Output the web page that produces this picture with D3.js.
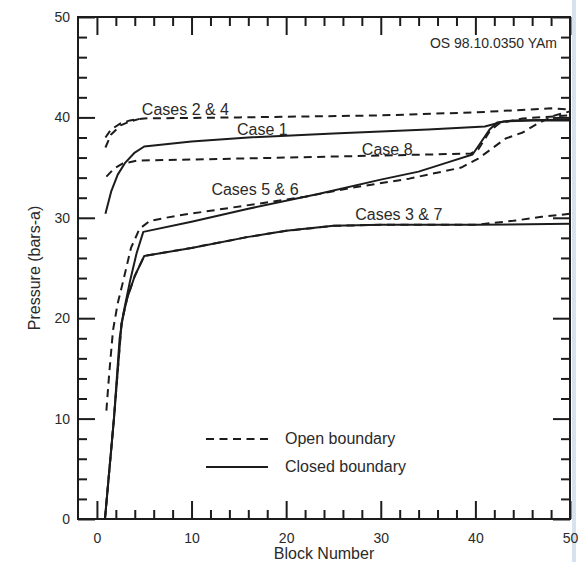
<!DOCTYPE html>
<html>
<head>
<meta charset="utf-8">
<script src="https://cdn.jsdelivr.net/npm/d3@7"></script>
<style>
  html, body { margin: 0; padding: 0; background: #fff; }
  svg { display: block; }
  text { font-family: "Liberation Sans", Arial, Helvetica, sans-serif; fill: #2a2a2a; }
</style>
</head>
<body>
<svg id="chart" width="582" height="562"></svg>
<script>
// ---- data ----
const xMajorTicks = [0, 10, 20, 30, 40, 50];
const yMajorTicks = [0, 10, 20, 30, 40, 50];
const xMinorTicks = [2, 4, 6, 8, 12, 14, 16, 18, 22, 24, 26, 28, 32, 34, 36, 38, 42, 44, 46, 48];
const yMinorTicks = [2, 4, 6, 8, 12, 14, 16, 18, 22, 24, 26, 28, 32, 34, 36, 38, 42, 44, 46, 48];

// Open boundary (dashed)
const case2Open = [[0.9,38.0],[1.5,38.8],[2.5,39.4],[3.5,39.7],[5,39.9],[15,40.0],[30,40.2],[40,40.5],[48,40.9],[50,40.8]];
const case4Open = [[0.9,37.0],[1.5,38.3],[2.5,39.2],[3.5,39.6],[4.5,39.85]];
const case8Open = [[1.0,34.1],[1.8,34.9],[2.7,35.4],[4.3,35.7],[10,35.8],[20,36.0],[30,36.2],[39.5,36.4],[40.3,36.8],[41.5,38.6],[42.5,39.4],[45,39.9],[50,40.2]];
const case56Open = [[1.0,10.8],[1.3,14.5],[1.7,18.8],[2.2,21.5],[2.8,23.8],[3.6,27.0],[4.5,28.9],[5.6,29.7],[8.4,30.2],[12,30.7],[17,31.4],[22,32.1],[27,33.0],[33,33.9],[38.5,35.0],[40.3,35.9],[43.2,37.9],[45,38.5],[46.6,39.4],[48.4,40.2],[50,40.6]];
const case37Open = [[0.85,0],[1.8,10],[2.6,19.5],[3.2,22],[4.0,24.2],[5.0,26.2],[10,27.0],[16,28.1],[20,28.7],[25,29.2],[30,29.3],[40,29.3],[44,29.7],[47,30.1],[50,30.4]];

// Closed boundary (solid)
const case1Closed = [[0.9,30.4],[1.5,32.6],[2.2,34.3],[3,35.5],[4,36.5],[5,37.1],[10,37.6],[16,38.0],[25,38.4],[35,38.8],[41,39.1],[43,39.6],[46,39.7],[50,39.7]];
const case56Closed = [[0.85,0],[1.8,10],[2.4,18],[2.8,20.5],[3.5,23.7],[4.2,26.5],[4.9,28.6],[10,29.6],[16,30.9],[23.5,32.4],[30,33.8],[34,34.6],[37,35.5],[39.7,36.3],[40.5,37.4],[41.5,38.8],[42.3,39.5],[44,39.7],[50,39.8]];
const case37Closed = [[0.85,0],[1.8,10],[2.6,19.5],[3.2,22],[4.0,24.2],[5.0,26.2],[10,27.0],[16,28.1],[20,28.7],[25,29.2],[30,29.3],[40,29.3],[50,29.4]];

const caseLabels = [
  { text: "Cases 2 & 4", x: 4.75, y: 40.25 },
  { text: "Case 1",      x: 14.8, y: 38.2 },
  { text: "Case 8",      x: 28.0, y: 36.3 },
  { text: "Cases 5 & 6", x: 12.1, y: 32.3 },
  { text: "Cases 3 & 7", x: 27.3, y: 29.8 }
];
const legendItems = [
  { label: "Open boundary", dashed: true },
  { label: "Closed boundary", dashed: false }
];

// ---- drawing ----
const svg = d3.select("#chart");
const pLeft = 78, pRight = 570, pTop = 17, pBottom = 519;
const x = d3.scaleLinear().domain([-2, 50]).range([pLeft, pRight]);
const y = d3.scaleLinear().domain([0, 50]).range([pBottom, pTop]);
const ink = "#1c1c1c";

// scan artefact strip at right edge
svg.append("rect").attr("x", 572).attr("y", 0).attr("width", 4).attr("height", 562).attr("fill", "#d6e3ee");

function styleAxis(g) {
  g.select(".domain").remove();
  g.selectAll(".tick line").attr("stroke", ink).attr("stroke-width", 2);
  g.selectAll(".tick text").style("font-size", "14px").attr("fill", "#2a2a2a");
}

// bottom
svg.append("g").attr("transform", `translate(0,${pBottom})`)
  .call(d3.axisBottom(x).tickValues(xMajorTicks).tickSize(-18).tickPadding(14.5).tickFormat(d3.format("d")))
  .call(styleAxis);
svg.append("g").attr("transform", `translate(0,${pBottom})`)
  .call(d3.axisBottom(x).tickValues(xMinorTicks).tickSize(-9).tickFormat(""))
  .call(styleAxis);
// top
svg.append("g").attr("transform", `translate(0,${pTop})`)
  .call(d3.axisTop(x).tickValues(xMajorTicks).tickSize(-18).tickFormat(""))
  .call(styleAxis);
svg.append("g").attr("transform", `translate(0,${pTop})`)
  .call(d3.axisTop(x).tickValues(xMinorTicks).tickSize(-9).tickFormat(""))
  .call(styleAxis);
// left
svg.append("g").attr("transform", `translate(${pLeft},0)`)
  .call(d3.axisLeft(y).tickValues(yMajorTicks).tickSize(-17).tickPadding(8).tickFormat(d3.format("d")))
  .call(styleAxis);
svg.append("g").attr("transform", `translate(${pLeft},0)`)
  .call(d3.axisLeft(y).tickValues(yMinorTicks).tickSize(-9).tickFormat(""))
  .call(styleAxis);
// right
svg.append("g").attr("transform", `translate(${pRight},0)`)
  .call(d3.axisRight(y).tickValues(yMajorTicks).tickSize(-17).tickFormat(""))
  .call(styleAxis);
svg.append("g").attr("transform", `translate(${pRight},0)`)
  .call(d3.axisRight(y).tickValues(yMinorTicks).tickSize(-9).tickFormat(""))
  .call(styleAxis);

// frame
svg.append("rect").attr("x", pLeft).attr("y", pTop).attr("width", pRight - pLeft).attr("height", pBottom - pTop)
  .attr("fill", "none").attr("stroke", ink).attr("stroke-width", 2);

// curves
const line = d3.line().x(d => x(d[0])).y(d => y(d[1])).curve(d3.curveLinear);
const dash = "8,5.5";
const series = [
  { data: case37Closed, dashed: false },
  { data: case37Open, dashed: true },
  { data: case56Closed, dashed: false },
  { data: case56Open, dashed: true },
  { data: case1Closed, dashed: false },
  { data: case8Open, dashed: true },
  { data: case2Open, dashed: true },
  { data: case4Open, dashed: true }
];
const plot = svg.append("g");
plot.selectAll("path.curve").data(series).join("path")
  .attr("class", "curve")
  .attr("d", d => line(d.data))
  .attr("fill", "none")
  .attr("stroke", ink)
  .attr("stroke-width", 2)
  .attr("stroke-linejoin", "round")
  .attr("stroke-dasharray", d => d.dashed ? dash : null);

// case labels
svg.selectAll("text.case").data(caseLabels).join("text")
  .attr("class", "case")
  .attr("x", d => x(d.x)).attr("y", d => y(d.y))
  .style("font-size", "16px")
  .text(d => d.text);

// ID text
svg.append("text").attr("x", 557).attr("y", 48).attr("text-anchor", "end")
  .style("font-size", "14px").text("OS 98.10.0350 YAm");

// legend
const lg = svg.append("g");
legendItems.forEach((d, i) => {
  const ly = 439 + i * 28;
  lg.append("line").attr("x1", 206).attr("x2", 268).attr("y1", ly).attr("y2", ly)
    .attr("stroke", ink).attr("stroke-width", 2)
    .attr("stroke-dasharray", d.dashed ? dash : null);
  lg.append("text").attr("x", 285).attr("y", ly + 5).style("font-size", "16px").text(d.label);
});

// axis titles
svg.append("text").attr("x", (pLeft + pRight) / 2).attr("y", 559).attr("text-anchor", "middle")
  .style("font-size", "16px").text("Block Number");
svg.append("text").attr("transform", "translate(40,268) rotate(-90)").attr("text-anchor", "middle")
  .style("font-size", "16px").text("Pressure (bars-a)");
</script>
</body>
</html>
